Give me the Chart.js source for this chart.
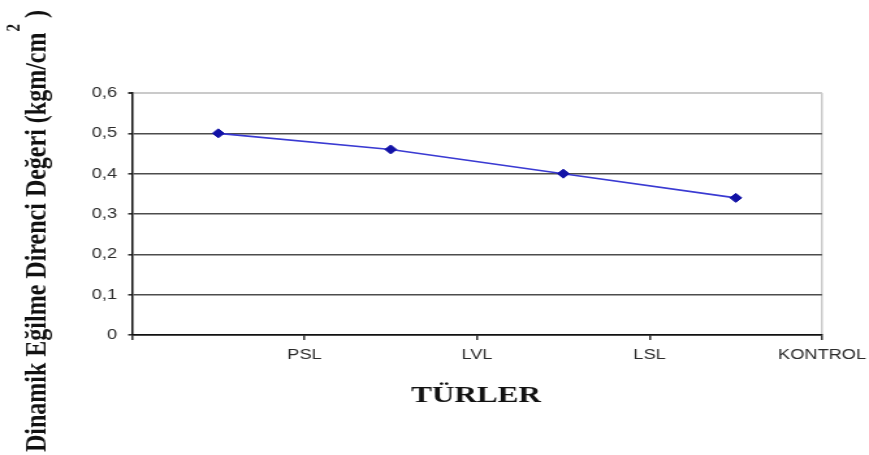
<!DOCTYPE html>
<html>
<head>
<meta charset="utf-8">
<script src="https://cdn.jsdelivr.net/npm/chart.js@4/dist/chart.umd.min.js"></script>
<style>
  html, body { margin: 0; padding: 0; background: #fff; overflow: hidden; }
  #wrap { width: 668px; height: 455px; transform-origin: 0 0; transform: scaleX(1.3009); }
  canvas { display: block; }
</style>
</head>
<body>
<div id="wrap"><canvas id="c" width="668" height="455"></canvas></div>
<script>
// Species on the x axis and their dynamic bending strength (kgm/cm²)
const categories = ['PSL', 'LVL', 'LSL', 'KONTROL'];
const strength = [0.50, 0.46, 0.40, 0.34];
const yTickLabels = ['0', '0,1', '0,2', '0,3', '0,4', '0,5', '0,6'];

const yTitle = 'Dinamik Eğilme Direnci Değeri (kgm/cm';
const xTitle = 'TÜRLER';

// each value sits in the middle of its category band
const points = strength.map((v, i) => ({ x: i + 0.5, y: v }));

const titles = {
  id: 'titles',
  afterDraw(chart) {
    const ctx = chart.ctx;
    ctx.save();
    ctx.fillStyle = '#111';
    // x axis title
    ctx.font = "bold 24px 'Liberation Serif'";
    ctx.textAlign = 'center';
    ctx.textBaseline = 'alphabetic';
    ctx.fillText(xTitle, 365.9, 402);
    // rotated y axis title with superscript unit
    ctx.translate(34.6, 452);
    ctx.rotate(-Math.PI / 2);
    ctx.textAlign = 'left';
    ctx.fillText(yTitle, 0, 0);
    const w = ctx.measureText(yTitle).width;
    ctx.font = "bold 15px 'Liberation Serif'";
    ctx.fillText('2', w + 1, -20);
    const w2 = ctx.measureText('2').width;
    ctx.font = "bold 24px 'Liberation Serif'";
    ctx.fillText(')', w + w2 + 7, 0);
    ctx.restore();
  }
};

new Chart(document.getElementById('c'), {
  type: 'line',
  data: {
    datasets: [{
      data: points,
      borderColor: '#3a3ad2',
      borderWidth: 1.6,
      tension: 0,
      pointStyle: 'rectRot',
      pointRadius: 4.5,
      pointBackgroundColor: '#1212a6',
      pointBorderColor: '#1212a6',
      pointBorderWidth: 1
    }]
  },
  options: {
    responsive: false,
    animation: false,
    layout: { padding: { left: 0, right: 36.1, top: 93, bottom: 0 } },
    plugins: { legend: { display: false }, tooltip: { enabled: false } },
    scales: {
      x: {
        type: 'linear',
        min: 0,
        max: categories.length,
        afterFit(scale) {
          scale.height = 120;
          scale.paddingLeft = 0;
          scale.paddingRight = 0;
        },
        border: { color: '#111', width: 1.5 },
        grid: {
          drawOnChartArea: true,
          drawTicks: true,
          tickLength: 5,
          lineWidth: 1.5,
          color: c => (c.tick && c.tick.value === categories.length) ? '#c8c8c8' : 'rgba(0,0,0,0)',
          tickColor: '#333'
        },
        ticks: {
          stepSize: 1,
          autoSkip: false,
          maxRotation: 0,
          padding: 7,
          color: '#2a2a2a',
          font: { family: "'Liberation Sans', Arial", size: 14 },
          callback: v => (v >= 1 && v <= categories.length) ? categories[v - 1] : ''
        }
      },
      y: {
        min: 0,
        max: 0.6,
        afterFit(scale) {
          scale.width = 101.5;
          scale.paddingTop = 0;
          scale.paddingBottom = 0;
        },
        border: { color: '#111', width: 1.5 },
        grid: {
          tickLength: 3,
          lineWidth: c => (c.tick && Math.abs(c.tick.value - 0.6) < 1e-9) ? 2 : 1.6,
          color: c => {
            if (!c.tick) return '#4c4c4c';
            if (Math.abs(c.tick.value - 0.6) < 1e-9) return '#cacaca';
            if (c.tick.value === 0) return '#111';
            return '#4c4c4c';
          },
          tickColor: '#333'
        },
        ticks: {
          stepSize: 0.1,
          padding: 8.5,
          color: '#2a2a2a',
          font: { family: "'Liberation Sans', Arial", size: 14 },
          callback: (v, i) => yTickLabels[i]
        }
      }
    }
  },
  plugins: [titles]
});
</script>
</body>
</html>
